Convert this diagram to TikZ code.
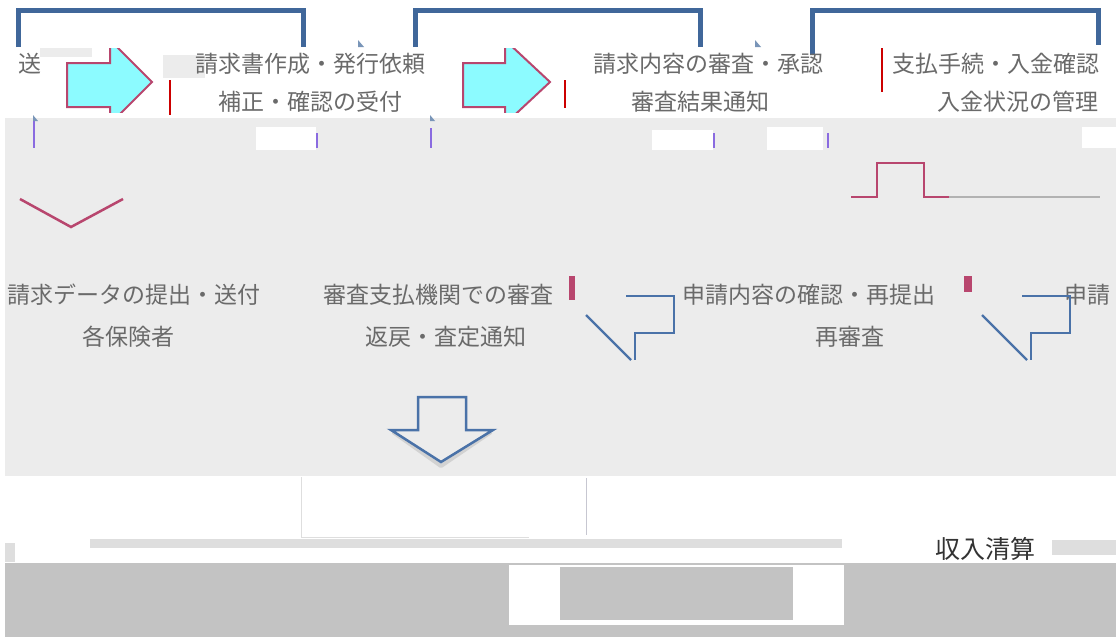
\documentclass[tikz,border=0pt]{standalone}
\usepackage{fontspec}
\newfontfamily\cjk{Noto Sans CJK JP}
\definecolor{bgg}{HTML}{ECECEC}
\definecolor{dkg}{HTML}{C3C3C3}
\definecolor{barg}{HTML}{DEDEDE}
\definecolor{boxblue}{HTML}{40679A}
\definecolor{lineblue}{HTML}{4A72A8}
\definecolor{pinkc}{HTML}{B8466E}
\definecolor{cyanc}{HTML}{8CFBFF}
\definecolor{txtg}{HTML}{6A6A6A}
\definecolor{purp}{HTML}{8A6BE0}
\tikzset{
  lbl/.style={font=\cjk\fontsize{23}{26}\selectfont, text=txtg, inner sep=0pt},
  topbox/.style={draw=boxblue, line width=5pt},
  pinkline/.style={draw=pinkc, line width=2.5pt, line join=miter},
  blueline/.style={draw=lineblue, line width=2.2pt},
  tick/.style={draw=purp, line width=1.2pt},
  redtick/.style={draw=red!80!black, line width=1.5pt},
  blockarrow/.style={fill=cyanc, draw=pinkc, line width=2pt}
}
\begin{document}
\begin{tikzpicture}[x=1pt,y=-1pt]
\useasboundingbox (0,0) rectangle (1116,637);
\fill[white] (0,0) rectangle (1116,637);
% backgrounds
\fill[bgg] (5,118) rectangle (1116,476);
\fill[white] (256,127) rectangle (316,150);
\fill[white] (652,130) rectangle (713,150);
\fill[white] (767,127) rectangle (823,150);
\fill[white] (1082,127) rectangle (1116,148);
\fill[bgg] (163,55) rectangle (205,78);
\fill[bgg] (40,48) rectangle (92,57);
\fill[dkg] (5,563) rectangle (1116,637);
\fill[white] (509,565) rectangle (844,625);
\fill[dkg] (560,567) rectangle (793,620);
\fill[barg] (90,539) rectangle (842,548);
\fill[barg] (1052,540) rectangle (1116,555);
\fill[barg] (5,543) rectangle (15,562);
\draw[barg, line width=1pt] (301,477) -- (301,537) -- (529,537);
\draw[blue!10!gray!40, line width=1pt] (586,478) -- (586,535);

% top boxes (upper parts)
\draw[topbox] (18,47) -- (18,10) -- (303,10) -- (303,47);
\draw[topbox] (415,47) -- (415,10) -- (700,10) -- (700,47);
\draw[topbox] (812,55) -- (812,10) -- (1098,10) -- (1098,45);

% block arrows
\begin{scope}
\clip (0,48) rectangle (1116,112);
\path[blockarrow] (67,63) -- (110,63) -- (110,40) -- (152,82) -- (110,124) -- (110,107) -- (67,107) -- cycle;
\path[blockarrow] (463,63) -- (505,63) -- (505,40) -- (550,82) -- (505,124) -- (505,107) -- (463,107) -- cycle;
\end{scope}
\coordinate (a1) at (152,82);
\coordinate (a2) at (550,82);

% small marks
\draw[redtick] (170,80) -- (170,115);
\draw[redtick] (565,80) -- (565,108);
\draw[redtick] (882,48) -- (882,92);
\draw[tick] (34,120) -- (34,148);
\draw[tick] (317,133) -- (317,148);
\draw[tick] (431,128) -- (431,148);
\draw[tick] (714,133) -- (714,148);
\draw[tick] (828,133) -- (828,148);
\fill[boxblue!70] (358,40) -- (364,47) -- (358,47) -- cycle;
\fill[boxblue!70] (755,40) -- (761,47) -- (755,47) -- cycle;
\fill[boxblue!70] (33,115) -- (38,121) -- (33,121) -- cycle;
\fill[boxblue!70] (430,115) -- (435,121) -- (430,121) -- cycle;

% top texts
\node[lbl] (t0) at (30,64) {送};
\node[lbl] (t1a) at (310,64) {請求書作成・発行依頼};
\node[lbl] (t1b) at (310,102) {補正・確認の受付};
\node[lbl] (t2a) at (708,64) {請求内容の審査・承認};
\node[lbl] (t2b) at (700,102) {審査結果通知};
\node[lbl, anchor=west] (t3a) at (892,64) {支払手続・入金確認};
\node[lbl] (t3b) at (1018,102) {入金状況の管理};

% chevron and step
\draw[pinkline] (20,199) -- (71,227) -- (123,199);
\draw[pinkline] (851,197) -- (877,197) -- (877,163) -- (924,163) -- (924,197) -- (949,197);
\draw[gray!60, line width=1.5pt] (949,197) -- (1100,197);

% row 2 texts
\node[lbl] (r1a) at (134,295) {請求データの提出・送付};
\node[lbl] (r1b) at (128,337) {各保険者};
\node[lbl] (r2a) at (438,295) {審査支払機関での審査};
\node[lbl] (r2b) at (446,337) {返戻・査定通知};
\node[lbl] (r3a) at (809,295) {申請内容の確認・再提出};
\node[lbl] (r3b) at (850,337) {再審査};
\node[lbl, anchor=west] (r4a) at (1064,295) {申請};

% pink fragments
\fill[pinkc] (569,276) -- (575,276) -- (575,300) -- (569,300) -- cycle;
\fill[pinkc] (964,276) -- (972,276) -- (972,292) -- (964,292) -- cycle;

% blue return symbols
\coordinate (z1) at (586,315);
\coordinate (z2) at (982,315);
\draw[blueline] (626,296) -- (674,296) -- (674,333) -- (635,333) -- (635,360);
\draw[blueline] (z1) -- (631,360);
\draw[blueline] (1022,296) -- (1070,296) -- (1070,333) -- (1031,333) -- (1031,360);
\draw[blueline] (z2) -- (1027,360);

% big down arrow
\draw[gray!35, line width=4pt, line join=round] (393,432) -- (441,466) -- (491,432);
\draw[lineblue, line width=2.5pt, line join=miter] (418,397) -- (466,397) -- (466,430) -- (493,430) -- (441,462) -- (391,430) -- (418,430) -- cycle;
\coordinate (dn) at (441,462);

% bottom label
\node[font=\cjk\fontsize{25}{28}\selectfont, text=black!80, inner sep=0pt] (res) at (985,549) {収入清算};
\end{tikzpicture}
\end{document}
